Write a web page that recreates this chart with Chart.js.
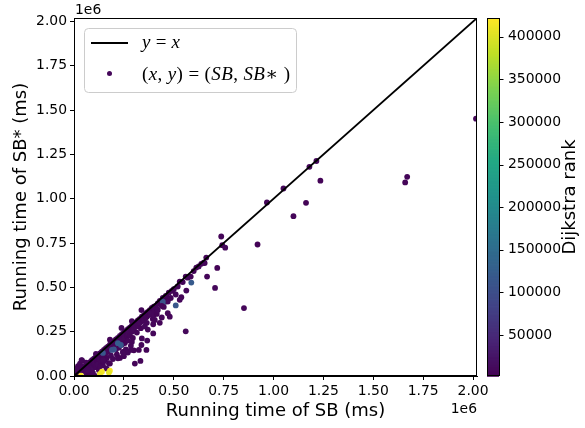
<!DOCTYPE html>
<html>
<head>
<meta charset="utf-8">
<script src="https://cdn.jsdelivr.net/npm/chart.js@4.4.1/dist/chart.umd.min.js"></script>
<style>
  html, body { margin: 0; padding: 0; background: #fff; }
  #plot { display: block; }
</style>
</head>
<body>
<canvas id="plot" width="585" height="428"></canvas>
<script>
// running times, in thousands of ms (axis is x1e6)
const sbTimeK = [
  2015, 1670, 1660, 1235, 1215, 1180, 1163, 1100, 1050, 967,
  920, 852, 738, 743, 758, 718, 707, 663, 655, 638,
  667, 613, 588, 563, 585, 560, 530, 560, 538, 530,
  510, 455, 480, 470, 397, 500, 490, 475, 460, 445,
  430, 420, 410, 400, 390, 380, 370, 360, 350, 340,
  330, 320, 310, 300, 290, 280, 270, 260, 250, 240,
  230, 220, 210, 200, 190, 180, 170, 160, 150, 140,
  130, 120, 110, 100, 90, 80, 70, 60, 50, 40,
  30, 20, 10, 5, 15, 25, 35, 45, 55, 65,
  75, 85, 95, 105, 115, 125, 135, 145, 155, 165,
  175, 185, 195, 205, 215, 225, 235, 245, 255, 265,
  275, 285, 295, 305, 315, 325, 335, 345, 355, 365,
  375, 385, 395, 405, 415, 20, 30, 40, 15, 238,
  338, 60, 110, 180, 290, 55, 60, 70, 75, 80,
  85, 90, 95, 100, 105, 110, 115, 120, 125, 130,
  135, 140, 145, 150, 155, 160, 165, 170, 175, 180,
  185, 190, 195, 200, 205, 210, 215, 220, 225, 230,
  235, 240, 245, 250, 255, 260, 265, 270, 275, 280,
  285, 290, 295, 300, 250, 270, 290, 300, 310, 315,
  320, 330, 335, 340, 345, 350, 355, 360, 365, 370,
  375, 385, 395, 400, 333, 305, 367, 363, 338, 247,
  220, 397, 405, 415, 420, 430, 440, 450, 465, 470,
  105, 80, 63, 38, 130, 163, 147, 38, 285, 325,
  145, 180, 95, 70, 235, 200, 220, 190, 145, 445,
  520, 545, 570, 600, 625, 650, 485, 510, 440, 140,
  180, 35, 130, 175
];
const sbStarTimeK = [
  1452, 1124, 1092, 1102, 1213, 1180, 977, 902, 1058, 979,
  742, 383, 787, 738, 724, 610, 497, 668, 637, 633,
  561, 612, 527, 482, 561, 561, 533, 252, 445, 430,
  398, 418, 335, 354, 292, 490, 480, 470, 452, 440,
  424, 410, 395, 392, 384, 372, 362, 354, 342, 335,
  322, 314, 303, 294, 284, 273, 265, 255, 246, 236,
  226, 215, 206, 196, 186, 177, 166, 157, 147, 137,
  128, 118, 108, 98, 89, 78, 69, 59, 49, 39,
  29, 20, 10, 4, 12, 21, 31, 40, 50, 58,
  68, 77, 86, 95, 104, 113, 123, 132, 140, 150,
  160, 168, 178, 188, 196, 205, 214, 224, 232, 242,
  252, 262, 270, 280, 290, 298, 308, 318, 325, 335,
  345, 350, 362, 372, 380, 55, 70, 88, 40, 271,
  372, 75, 125, 205, 310, 30, 20, 42, 10, 35,
  55, 25, 48, 62, 72, 50, 85, 66, 32, 95,
  77, 108, 60, 120, 90, 130, 102, 140, 72, 150,
  116, 160, 96, 170, 182, 150, 122, 190, 160, 102,
  200, 176, 136, 210, 186, 150, 225, 200, 238, 230,
  170, 250, 215, 260, 112, 132, 192, 145, 278, 245,
  288, 300, 270, 212, 310, 318, 280, 330, 300, 262,
  345, 350, 322, 345, 85, 70, 200, 147, 175, 128,
  100, 240, 316, 350, 372, 300, 330, 390, 445, 420,
  0, 6, 34, 53, 53, 43, 80, 90, 147, 147,
  90, 70, 17, 34, 175, 150, 185, 147, 130, 420,
  505, 530, 555, 592, 618, 640, 440, 460, 395, 24,
  30, 2, 12, 20
];
const dijkstraRank = [
  9000, 7000, 8000, 6000, 12000, 9000, 5000, 8000, 10000, 7000,
  6000, 9000, 8000, 7000, 11000, 5000, 9000, 8000, 6000, 10000,
  7000, 8000, 120000, 9000, 6000, 8000, 7000, 10000, 6000, 9000,
  115000, 125000, 8000, 7000, 9000, 8000, 5000, 9000, 7000, 12000,
  8000, 6000, 10000, 7000, 9000, 8000, 6000, 11000, 7000, 9000,
  8000, 5000, 10000, 7000, 9000, 8000, 6000, 12000, 7000, 9000,
  8000, 6000, 10000, 7000, 9000, 8000, 5000, 11000, 7000, 9000,
  8000, 6000, 10000, 7000, 9000, 8000, 6000, 12000, 7000, 9000,
  8000, 5000, 10000, 7000, 8000, 6000, 9000, 7000, 8000, 10000,
  6000, 9000, 7000, 8000, 5000, 9000, 7000, 10000, 8000, 6000,
  9000, 7000, 8000, 11000, 7000, 9000, 8000, 6000, 10000, 7000,
  9000, 8000, 5000, 9000, 7000, 8000, 10000, 6000, 9000, 7000,
  8000, 11000, 7000, 9000, 8000, 6000, 9000, 7000, 8000, 10000,
  7000, 9000, 8000, 6000, 9000, 7000, 8000, 10000, 6000, 9000,
  7000, 8000, 11000, 7000, 9000, 8000, 6000, 10000, 7000, 9000,
  8000, 5000, 9000, 7000, 8000, 10000, 6000, 9000, 7000, 8000,
  11000, 7000, 9000, 8000, 6000, 10000, 7000, 9000, 8000, 5000,
  9000, 7000, 8000, 10000, 6000, 9000, 7000, 8000, 11000, 7000,
  9000, 8000, 6000, 10000, 7000, 9000, 8000, 5000, 9000, 7000,
  8000, 10000, 6000, 9000, 7000, 8000, 11000, 7000, 9000, 8000,
  6000, 10000, 7000, 9000, 8000, 6000, 9000, 7000, 8000, 10000,
  7000, 9000, 8000, 6000, 9000, 7000, 8000, 10000, 7000, 9000,
  8000, 6000, 9000, 7000, 8000, 10000, 7000, 9000, 8000, 6000,
  9000, 7000, 8000, 10000, 118000, 112000, 125000, 108000, 115000, 110000,
  8000, 7000, 9000, 6000, 8000, 10000, 7000, 9000, 8000, 418000,
  420000, 415000, 410000, 405000
];

const axisTicks = [0, 250000, 500000, 750000, 1000000, 1250000, 1500000, 1750000, 2000000];
const rankTicks = [50000, 100000, 150000, 200000, 250000, 300000, 350000, 400000];
const axisMax = 2020000;
const rankMin = 2000;
const rankMax = 422000;

const VIRIDIS = ['#440154', '#482475', '#414487', '#355f8d', '#2a788e', '#21918c',
                 '#22a884', '#44bf70', '#7ad151', '#bddf26', '#fde725'];

function hexRgb(h) {
  return [parseInt(h.slice(1, 3), 16), parseInt(h.slice(3, 5), 16), parseInt(h.slice(5, 7), 16)];
}

function viridis(t) {
  t = Math.max(0, Math.min(1, t));
  const p = t * (VIRIDIS.length - 1);
  const i = Math.min(Math.floor(p), VIRIDIS.length - 2);
  const f = p - i;
  const a = hexRgb(VIRIDIS[i]), b = hexRgb(VIRIDIS[i + 1]);
  const c = a.map((v, k) => Math.round(v + (b[k] - v) * f));
  return `rgb(${c[0]},${c[1]},${c[2]})`;
}

const rankColor = r => viridis((r - rankMin) / (rankMax - rankMin));

// draw mathtext-ish runs: [text, italic], stretched to a target width
function drawMath(ctx, segs, x, y, size, target) {
  const chars = [];
  segs.forEach(([t, it]) => { for (const ch of t) chars.push([ch, it]); });
  const fontOf = it => (it ? 'italic ' : '') + size + 'px "Liberation Serif", "DejaVu Serif", serif';
  let total = 0;
  chars.forEach(c => { ctx.font = fontOf(c[1]); c.push(ctx.measureText(c[0]).width); total += c[2]; });
  const extra = chars.length > 1 ? (target - total) / (chars.length - 1) : 0;
  chars.forEach(c => {
    ctx.font = fontOf(c[1]);
    ctx.fillText(c[0], x, y);
    x += c[2] + extra;
  });
}

// no extra label overhang padding, the plot box is fixed
const noPad = s => { s.paddingTop = 0; s.paddingBottom = 0; s.paddingLeft = 0; s.paddingRight = 0; };

const extras = {
  id: 'extras',
  afterDraw(chart) {
    const ctx = chart.ctx;
    const a = chart.chartArea;
    const cb = chart.scales.cb;
    ctx.save();

    // full frame around the axes
    ctx.strokeStyle = '#000';
    ctx.lineWidth = 1;
    ctx.strokeRect(Math.round(a.left) + 0.5, Math.round(a.top) + 0.5,
                   Math.round(a.right - a.left) - 1, Math.round(a.bottom - a.top) - 1);

    // colorbar
    const x0 = Math.round(a.right) + 10, w = 12;
    const steps = 256;
    for (let i = 0; i < steps; i++) {
      const v0 = rankMin + (rankMax - rankMin) * i / steps;
      const v1 = rankMin + (rankMax - rankMin) * (i + 1) / steps;
      const y0 = cb.getPixelForValue(v0), y1 = cb.getPixelForValue(v1);
      ctx.fillStyle = viridis((i + 0.5) / steps);
      ctx.fillRect(x0, y1, w, y0 - y1 + 0.8);
    }
    ctx.strokeStyle = '#000';
    ctx.strokeRect(x0 + 0.5, Math.round(cb.top) + 0.5, w, Math.round(cb.bottom - cb.top) - 1);
    rankTicks.forEach(v => {
      const y = Math.round(cb.getPixelForValue(v)) + 0.5;
      ctx.beginPath();
      ctx.moveTo(x0 + w + 0.5, y);
      ctx.lineTo(x0 + w + 4.5, y);
      ctx.stroke();
    });

    ctx.fillStyle = '#000';
    // offset labels
    ctx.font = '13.9px "DejaVu Sans"';
    ctx.textBaseline = 'middle';
    ctx.textAlign = 'left';
    ctx.fillText('1e6', a.left + 1, 10);
    ctx.textAlign = 'right';
    ctx.fillText('1e6', a.right, 409);

    // colorbar label
    ctx.save();
    ctx.translate(cb.left + 93, (cb.top + cb.bottom) / 2);
    ctx.rotate(-Math.PI / 2);
    ctx.textAlign = 'center';
    ctx.font = '18px "DejaVu Sans"';
    ctx.fillText('Dijkstra rank', 0, 0);
    ctx.restore();

    // legend
    const lx = 84.5, ly = 28.5, lw = 212, lh = 64;
    ctx.beginPath();
    ctx.roundRect(lx, ly, lw, lh, 4);
    ctx.fillStyle = 'rgba(255,255,255,0.8)';
    ctx.fill();
    ctx.strokeStyle = '#cccccc';
    ctx.stroke();

    ctx.strokeStyle = '#000';
    ctx.lineWidth = 1.8;
    ctx.beginPath();
    ctx.moveTo(91, 43);
    ctx.lineTo(128, 43);
    ctx.stroke();

    ctx.fillStyle = rankColor(dijkstraRank[0]);
    ctx.beginPath();
    ctx.arc(109.5, 73.5, 2.5, 0, Math.PI * 2);
    ctx.fill();

    ctx.fillStyle = '#000';
    ctx.textAlign = 'left';
    ctx.textBaseline = 'alphabetic';
    drawMath(ctx, [['y', 1], [' = ', 0], ['x', 1]], 142, 48, 19, 38);
    drawMath(ctx, [['(', 0], ['x', 1], [', ', 0], ['y', 1], [')', 0], [' = ', 0], ['(', 0],
                   ['SB', 1], [', ', 0], ['SB', 1], ['\u2217 ', 0], [')', 0]], 142, 80, 19, 148);
    ctx.restore();
  }
};

const points = sbTimeK.map((x, i) => ({ x: x * 1000, y: sbStarTimeK[i] * 1000 }));

const tickFmt = v => (v / 1e6).toFixed(2);

const axisStyle = {
  border: { display: true, color: '#000', width: 1 },
  grid: { display: true, drawOnChartArea: false, drawTicks: true, tickLength: 4, tickColor: '#000', tickWidth: 1 },
};

new Chart(document.getElementById('plot'), {
  type: 'scatter',
  data: {
    datasets: [
      {
        label: 'y = x',
        data: [{ x: 0, y: 0 }, { x: axisMax, y: axisMax }],
        showLine: true,
        borderColor: '#000',
        borderWidth: 1.8,
        pointRadius: 0,
        clip: 0
      },
      {
        label: '(x, y) = (SB, SB*)',
        data: points,
        pointRadius: 2.9,
        pointBorderWidth: 0,
        pointBackgroundColor: dijkstraRank.map(rankColor),
        clip: 0
      }
    ]
  },
  options: {
    responsive: false,
    devicePixelRatio: 1,
    animation: false,
    events: [],
    layout: { padding: { top: 18, left: 0, right: 0, bottom: 0 } },
    plugins: { legend: { display: false }, tooltip: { enabled: false } },
    scales: {
      x: {
        type: 'linear',
        position: 'bottom',
        min: 0,
        max: axisMax,
        ...axisStyle,
        afterBuildTicks: s => { s.ticks = axisTicks.map(v => ({ value: v })); },
        afterFit: s => { s.height = 52; noPad(s); },
        ticks: { callback: tickFmt, color: '#000', padding: 3, maxRotation: 0, autoSkip: false,
                 font: { family: 'DejaVu Sans', size: 13.9 } },
        title: { display: true, text: 'Running time of SB (ms)', color: '#000',
                 font: { family: 'DejaVu Sans', size: 18, lineHeight: 1.2 }, padding: { top: 0, bottom: 6 } }
      },
      y: {
        type: 'linear',
        position: 'left',
        min: 0,
        max: axisMax,
        ...axisStyle,
        afterBuildTicks: s => { s.ticks = axisTicks.map(v => ({ value: v })); },
        afterFit: s => { s.width = 74; noPad(s); },
        ticks: { callback: tickFmt, color: '#000', padding: 3, autoSkip: false,
                 font: { family: 'DejaVu Sans', size: 13.9 } },
        title: { display: true, text: 'Running time of SB* (ms)', color: '#000',
                 font: { family: 'DejaVu Sans', size: 18, lineHeight: 1.2 }, padding: { top: 11, bottom: 0 } }
      },
      cb: {
        type: 'linear',
        axis: 'y',
        position: 'right',
        min: rankMin,
        max: rankMax,
        border: { display: false },
        grid: { display: false, drawTicks: false, tickLength: 0 },
        afterBuildTicks: s => { s.ticks = rankTicks.map(v => ({ value: v })); },
        afterFit: s => { s.width = 108; noPad(s); },
        ticks: { callback: v => String(v), color: '#000', padding: 31, autoSkip: false,
                 font: { family: 'DejaVu Sans', size: 13.9 } }
      }
    }
  },
  plugins: [extras]
});
</script>
</body>
</html>
